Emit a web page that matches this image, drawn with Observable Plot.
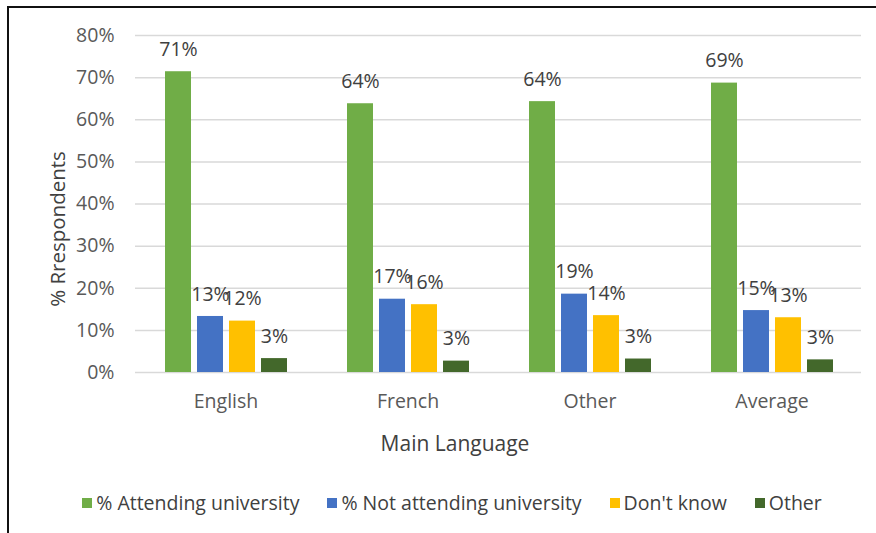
<!DOCTYPE html>
<html>
<head>
<meta charset="utf-8">
<script src="https://cdn.jsdelivr.net/npm/d3@7"></script>
<script src="https://cdn.jsdelivr.net/npm/@observablehq/plot@0.6"></script>
<style>
  html, body { margin: 0; padding: 0; background: #fff; }
  body { width: 876px; height: 533px; position: relative; overflow: hidden; font-family: "Open Sans", Lato, sans-serif; color: #404040; }
  #frame { position: absolute; left: 7px; top: 6px; width: 880px; height: 540px; border-top: 2px solid #111; border-left: 2px solid #111; }
  #grid, #chart { position: absolute; left: 0; top: 0; }
  #ylabel { position: absolute; left: 57px; top: 229px; transform: translate(-50%, -50%) rotate(-90deg); font-size: 20.5px; white-space: nowrap; }
  #xlabel { position: absolute; left: 455px; top: 443px; transform: translate(-50%, -50%); font-size: 21px; white-space: nowrap; }
  #legend { position: absolute; left: 0; top: 489px; width: 876px; display: flex; justify-content: center; align-items: center; font-size: 19.5px; padding-left: 56px; box-sizing: border-box; }
  .item { display: flex; align-items: center; margin-right: 28px; white-space: nowrap; }
  .sw { width: 10px; height: 10px; margin-right: 4px; }
</style>
</head>
<body>
<div id="frame"></div>
<div id="grid"></div>
<div id="chart"></div>
<div id="ylabel"></div>
<div id="xlabel"></div>
<div id="legend"></div>
<script>
const categories = ["English", "French", "Other", "Average"];
const series = ["% Attending university", "% Not attending university", "Don't know", "Other"];
const attending = [71.4, 63.8, 64.3, 68.7];
const notAttending = [13.3, 17.4, 18.6, 14.7];
const dontKnow = [12.2, 16.1, 13.5, 13.0];
const other = [3.3, 2.7, 3.2, 3.0];
const colors = ["#70AD47", "#4472C4", "#FFC000", "#43682B"];
const yTicks = [0, 10, 20, 30, 40, 50, 60, 70, 80];
const yTitle = "% Rrespondents";
const xTitle = "Main Language";

const seriesValues = [attending, notAttending, dontKnow, other];
const data = [];
categories.forEach((c, i) => {
  series.forEach((s, j) => data.push({category: c, series: s, value: seriesValues[j][i]}));
});

const font = "'Open Sans', Lato, sans-serif";
const common = {
  width: 876,
  height: 470,
  marginLeft: 135,
  marginRight: 15,
  marginTop: 35,
  marginBottom: 98,
  style: {fontFamily: font, fontSize: "19.5px", color: "#404040", background: "transparent"}
};

const grid = Plot.plot({
  ...common,
  y: {domain: [0, 80], label: null},
  marks: [
    Plot.gridY(yTicks, {stroke: "#d9d9d9", strokeOpacity: 1, strokeWidth: 1.5}),
    Plot.axisY(yTicks, {tickSize: 0, tickPadding: 21, tickFormat: d => d + "%", label: null, fill: "#595959", fontSize: "19.5px"})
  ]
});
document.getElementById("grid").appendChild(grid);

const chart = Plot.plot({
  ...common,
  fx: {domain: categories, paddingInner: 0.315, paddingOuter: 0.152, label: null},
  x: {domain: series, paddingInner: 0.2, paddingOuter: 0, axis: null},
  y: {domain: [0, 80], axis: null},
  color: {domain: series, range: colors},
  marks: [
    Plot.axisFx({anchor: "bottom", tickSize: 0, tickPadding: 22, label: null, fill: "#595959", fontSize: "19.5px"}),
    Plot.barY(data, {fx: "category", x: "series", y: "value", fill: "series"}),
    Plot.text(data, {fx: "category", x: "series", y: "value", text: d => Math.round(d.value) + "%", dy: -22, fill: "#404040", fontSize: "19.5px"})
  ]
});
document.getElementById("chart").appendChild(chart);
document.getElementById("ylabel").textContent = yTitle;
document.getElementById("xlabel").textContent = xTitle;

const legend = document.getElementById("legend");
series.forEach((s, i) => {
  const item = document.createElement("div");
  item.className = "item";
  const sw = document.createElement("div");
  sw.className = "sw";
  sw.style.background = colors[i];
  const t = document.createElement("span");
  t.textContent = s;
  item.appendChild(sw);
  item.appendChild(t);
  legend.appendChild(item);
});
</script>
</body>
</html>
